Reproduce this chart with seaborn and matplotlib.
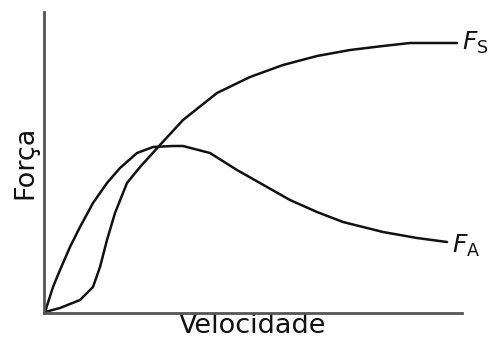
import numpy as np
import pandas as pd
import matplotlib
matplotlib.use('Agg')
import matplotlib.pyplot as plt
import seaborn as sns

# curve values (arbitrary units)
vel_s = [1, 16, 36, 49, 56, 63, 71, 83, 96, 106, 116, 139, 173, 206, 239, 273, 306, 339, 366, 413]
forca_s = [1, 5, 13, 26, 46, 73, 100, 130, 146, 157, 168, 193, 220, 236, 248, 257, 263, 267, 270, 270]
vel_a = [1, 9, 16, 26, 36, 49, 63, 76, 93, 109, 129, 139, 166, 193, 216, 246, 273, 299, 339, 373, 403]
forca_a = [1, 26, 43, 66, 86, 110, 130, 145, 160, 166, 167, 167, 160, 143, 130, 113, 101, 91, 81, 75, 71]

df_s = pd.DataFrame({'v': vel_s, 'f': forca_s})
df_a = pd.DataFrame({'v': vel_a, 'f': forca_a})

sns.set_style('white')
plt.rcParams['font.family'] = ['DejaVu Sans']

fig = plt.figure(figsize=(4.91, 3.43), dpi=100)
ax = fig.add_axes([44/491, 30/343, 418/491, 301/343])

sns.lineplot(data=df_s, x='v', y='f', color='#111111', lw=1.8, ax=ax, estimator=None)
sns.lineplot(data=df_a, x='v', y='f', color='#111111', lw=1.8, ax=ax, estimator=None)

ax.set_xlim(0, 418)
ax.set_ylim(0, 301)
ax.set_xticks([])
ax.set_yticks([])
sns.despine(ax=ax)
for s in ['left', 'bottom']:
    ax.spines[s].set_color('#555555')
    ax.spines[s].set_linewidth(2)

ax.set_xlabel('Velocidade', fontsize=19.5, labelpad=0, color='#111111')
ax.set_ylabel('Força', fontsize=19.5, labelpad=4, color='#111111')

ax.text(vel_s[-1] + 5, forca_s[-1], r'$\mathit{F}_{\mathrm{S}}$', fontsize=18,
        va='center', ha='left', clip_on=False, color='#111111')
ax.text(vel_a[-1] + 5, forca_a[-1] - 4, r'$\mathit{F}_{\mathrm{A}}$', fontsize=18,
        va='center', ha='left', clip_on=False, color='#111111')

fig.savefig('out.png', dpi=100)
